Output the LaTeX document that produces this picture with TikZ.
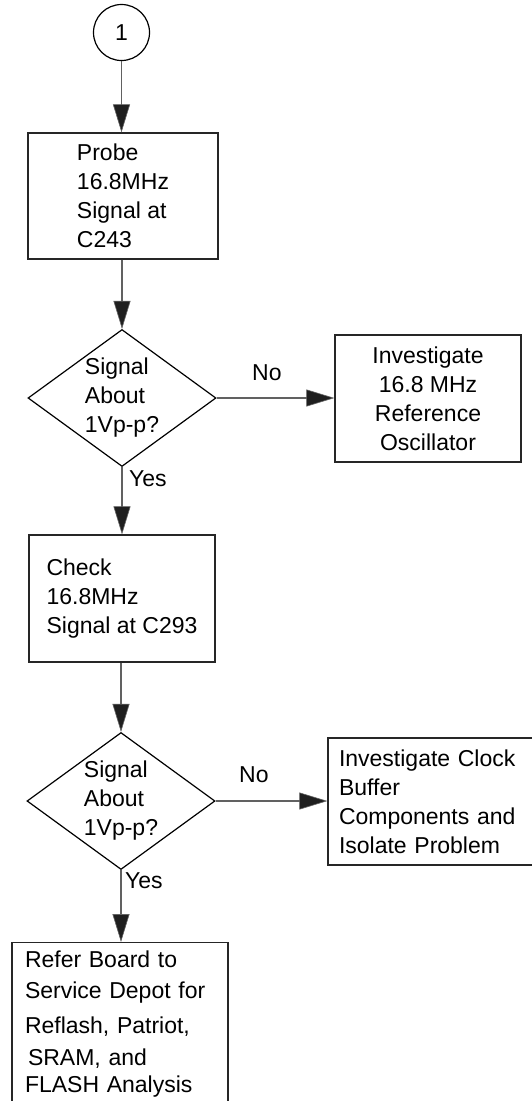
\documentclass[tikz,border=0pt]{standalone}
\usepackage{fontspec}
\setmainfont{Liberation Sans}
\usetikzlibrary{shapes.geometric,arrows.meta}
\definecolor{edgec}{gray}{0.15}
\definecolor{linec}{gray}{0.38}
\definecolor{tipc}{gray}{0.12}
\tikzset{
  txt/.style={font=\fontsize{23}{29}\selectfont},
  boxnode/.style={draw=edgec, line width=1.25pt, rectangle, inner sep=0pt, txt},
  decnode/.style={draw=black, line width=1.2pt, diamond, inner sep=0pt, aspect=1.37,
     minimum width=188pt, minimum height=137pt, align=left, txt},
  connode/.style={draw=black, line width=1.2pt, circle, minimum size=56pt, inner sep=0pt, txt},
  lbl/.style={inner sep=0pt, anchor=base west, txt},
  flow/.style={draw=linec, line width=1.7pt, -{Triangle[length=28pt,width=17pt,fill=tipc,line width=0.6pt]}}
}
\begin{document}
\begin{tikzpicture}[x=1pt,y=-1pt]
\useasboundingbox (0,0) rectangle (532,1101);
\clip (0,0) rectangle (532,1101);
\fill[white] (0,0) rectangle (532,1101);

\node[connode] (c1) at (121.5,32.5) {1};
\node[boxnode, align=left, minimum width=190pt, minimum height=126pt] (probe) at (123,196)
  {Probe\\16.8MHz\\Signal at\\C243};
\node[decnode] (d1) at (122,398) {Signal\\About\\1Vp-p?};
\node[boxnode, align=center, minimum width=186pt, minimum height=127pt] (osc) at (428,398.5)
  {Investigate\\16.8 MHz\\Reference\\Oscillator};
\node[boxnode, align=left, minimum width=186pt, minimum height=127pt] (check) at (122,598.5)
  {Check\\16.8MHz\\Signal at C293};
\node[decnode] (d2) at (121,801) {Signal\\About\\1Vp-p?};
\node[boxnode, align=left, text width=190pt, inner xsep=11pt, minimum height=127pt] (clock) at (434,801.5)
  {Investigate Clock\\Buffer\\Components and\\Isolate Problem};
\node[boxnode, align=left, text width=190pt, inner xsep=13pt, inner ysep=8pt, anchor=north] (refer) at (120,942)
  {Refer Board to\\[2pt]Service Depot for\\[6pt]Reflash, Patriot,\\[3pt]\hspace*{3pt}SRAM, and\\[-2pt]FLASH Analysis};

\node[lbl] (no1) at (252,380) {No};
\node[lbl] (yes1) at (129,486) {Yes};
\node[lbl] (no2) at (239,782) {No};
\node[lbl] (yes2) at (125,888) {Yes};

\draw[flow] (c1.south) -- (c1.south |- probe.north);
\draw[flow] (d1.north |- probe.south) -- (d1.north);
\draw[flow] (d1.east) -- (osc.west |- d1.east);
\draw[flow] (d1.south) -- (d1.south |- check.north);
\draw[flow] (d2.north |- check.south) -- (d2.north);
\draw[flow] (d2.east) -- (clock.west |- d2.east);
\draw[flow] (d2.south) -- (d2.south |- refer.north);
\end{tikzpicture}
\end{document}
